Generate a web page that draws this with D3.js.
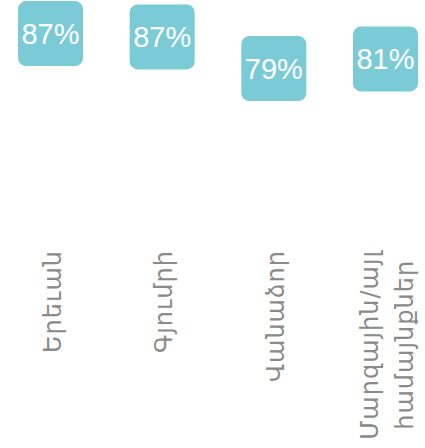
<!DOCTYPE html>
<html>
<head>
<meta charset="utf-8">
<script src="https://cdn.jsdelivr.net/npm/d3@7"></script>
<style>
  body { margin: 0; background: #fff; }
  svg { display: block; }
</style>
</head>
<body>
<div id="chart"></div>
<script>
// data
const categories = ["Երեւան", "Գյումրի", "Վանաձոր", "Մարզային/այլ համայնքներ"];
const labelLines = [["Երեւան"], ["Գյումրի"], ["Վանաձոր"], ["Մարզային/այլ", "համայնքներ"]];
const values = [0.874, 0.866, 0.791, 0.814];

const width = 425, height = 448;
const boxSize = 65;

const svg = d3.select("#chart").append("svg")
    .attr("width", width)
    .attr("height", height);

const x = d3.scalePoint()
    .domain(categories)
    .range([50.5, 385.5]);

// box centre height follows the value
const y = d3.scaleLinear()
    .domain([0.70, 1.00])
    .range([107, -19.6]);

const fmt = d3.format(".0%");

const boxes = svg.selectAll("g.box")
    .data(categories)
    .join("g")
    .attr("class", "box")
    .attr("transform", (d, i) => "translate(" + x(d) + "," + y(values[i]) + ")");

boxes.append("rect")
    .attr("x", -boxSize / 2)
    .attr("y", -boxSize / 2)
    .attr("width", boxSize)
    .attr("height", boxSize)
    .attr("rx", 8)
    .attr("fill", "#7bcbd7");

boxes.append("text")
    .attr("text-anchor", "middle")
    .attr("dy", "0.36em")
    .attr("fill", "#fff")
    .style("font-family", "'Liberation Sans', Arial, sans-serif")
    .style("font-size", "29px")
    .text((d, i) => fmt(values[i]));

// rotated category labels, ending at the same top line
const labelTop = 250;
const fs = 24;
const labels = svg.selectAll("g.label")
    .data(categories)
    .join("g")
    .attr("class", "label")
    .attr("transform", d => "translate(" + x(d) + "," + labelTop + ") rotate(-90)");

labels.each(function(d, i) {
    const lines = labelLines[i];
    const t = d3.select(this).append("text")
        .attr("fill", "#8a8a8a")
        .style("font-family", "'DejaVu Sans', sans-serif")
        .style("font-size", fs + "px")
        .style("letter-spacing", "1px");
    const lh = 35;
    const off = -(lines.length - 1) * lh / 2;
    const spans = lines.map((s, j) => t.append("tspan")
        .attr("dy", j == 0 ? (off / fs + 0.42) + "em" : lh + "px")
        .text(s));
    const w = d3.max(spans, s => s.node().getComputedTextLength());
    spans.forEach(s => s.attr("x", -w / 2).attr("text-anchor", "middle"));
});
</script>
</body>
</html>
